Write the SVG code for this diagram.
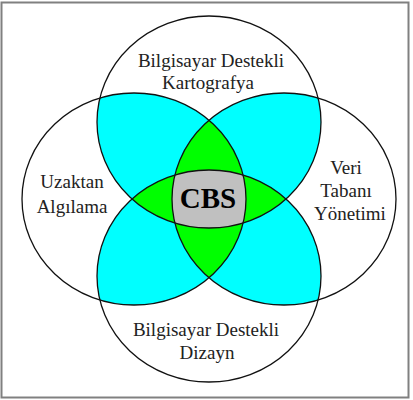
<svg xmlns="http://www.w3.org/2000/svg" width="413" height="400" viewBox="0 0 413 400">
<style>
.lbl{font-family:"Liberation Serif","Times New Roman",serif;font-size:19px;fill:#222;text-anchor:middle}
.cbs{font-family:"Liberation Serif","Times New Roman",serif;font-size:29px;font-weight:bold;fill:#000;text-anchor:middle}
.ring{fill:none;stroke:#111;stroke-width:1.3}
</style>
<defs>
<ellipse id="eT" cx="209" cy="122" rx="112" ry="106"/>
<ellipse id="eB" cx="209" cy="276" rx="112" ry="106"/>
<ellipse id="eL" cx="134" cy="199" rx="112" ry="106"/>
<ellipse id="eR" cx="284" cy="199" rx="112" ry="106"/>
<clipPath id="cT"><use href="#eT"/></clipPath>
<clipPath id="cB"><use href="#eB"/></clipPath>
<clipPath id="cL"><use href="#eL"/></clipPath>
<clipPath id="cR"><use href="#eR"/></clipPath>
</defs>
<rect x="1.5" y="2.5" width="407" height="395" fill="#fff" stroke="#808080" stroke-width="2"/>
<g id="regions">
<g fill="#00ffff">
<use href="#eT" clip-path="url(#cL)"/>
<use href="#eT" clip-path="url(#cR)"/>
<use href="#eB" clip-path="url(#cL)"/>
<use href="#eB" clip-path="url(#cR)"/>
</g>
<g fill="#00ff00">
<g clip-path="url(#cL)"><use href="#eT" clip-path="url(#cR)"/></g>
<g clip-path="url(#cL)"><use href="#eB" clip-path="url(#cR)"/></g>
<g clip-path="url(#cT)"><use href="#eL" clip-path="url(#cB)"/></g>
<g clip-path="url(#cT)"><use href="#eR" clip-path="url(#cB)"/></g>
</g>
<g fill="#c0c0c0" clip-path="url(#cT)"><g clip-path="url(#cB)"><use href="#eL" clip-path="url(#cR)"/></g></g>
</g>
<g id="circle-top"><use href="#eT" class="ring"/>
<text class="lbl" x="211" y="67">Bilgisayar Destekli</text>
<text class="lbl" x="208" y="89">Kartografya</text></g>
<g id="circle-left"><use href="#eL" class="ring"/>
<text class="lbl" x="72" y="188">Uzaktan</text>
<text class="lbl" x="72" y="213">Algılama</text></g>
<g id="circle-right"><use href="#eR" class="ring"/>
<text class="lbl" x="346" y="174">Veri</text>
<text class="lbl" x="346" y="197">Tabanı</text>
<text class="lbl" x="350" y="220">Yönetimi</text></g>
<g id="circle-bottom"><use href="#eB" class="ring"/>
<text class="lbl" x="206" y="336">Bilgisayar Destekli</text>
<text class="lbl" x="207" y="359">Dizayn</text></g>
<g id="center"><text class="cbs" x="208" y="208">CBS</text></g>
<g id="connectors"/>
</svg>
